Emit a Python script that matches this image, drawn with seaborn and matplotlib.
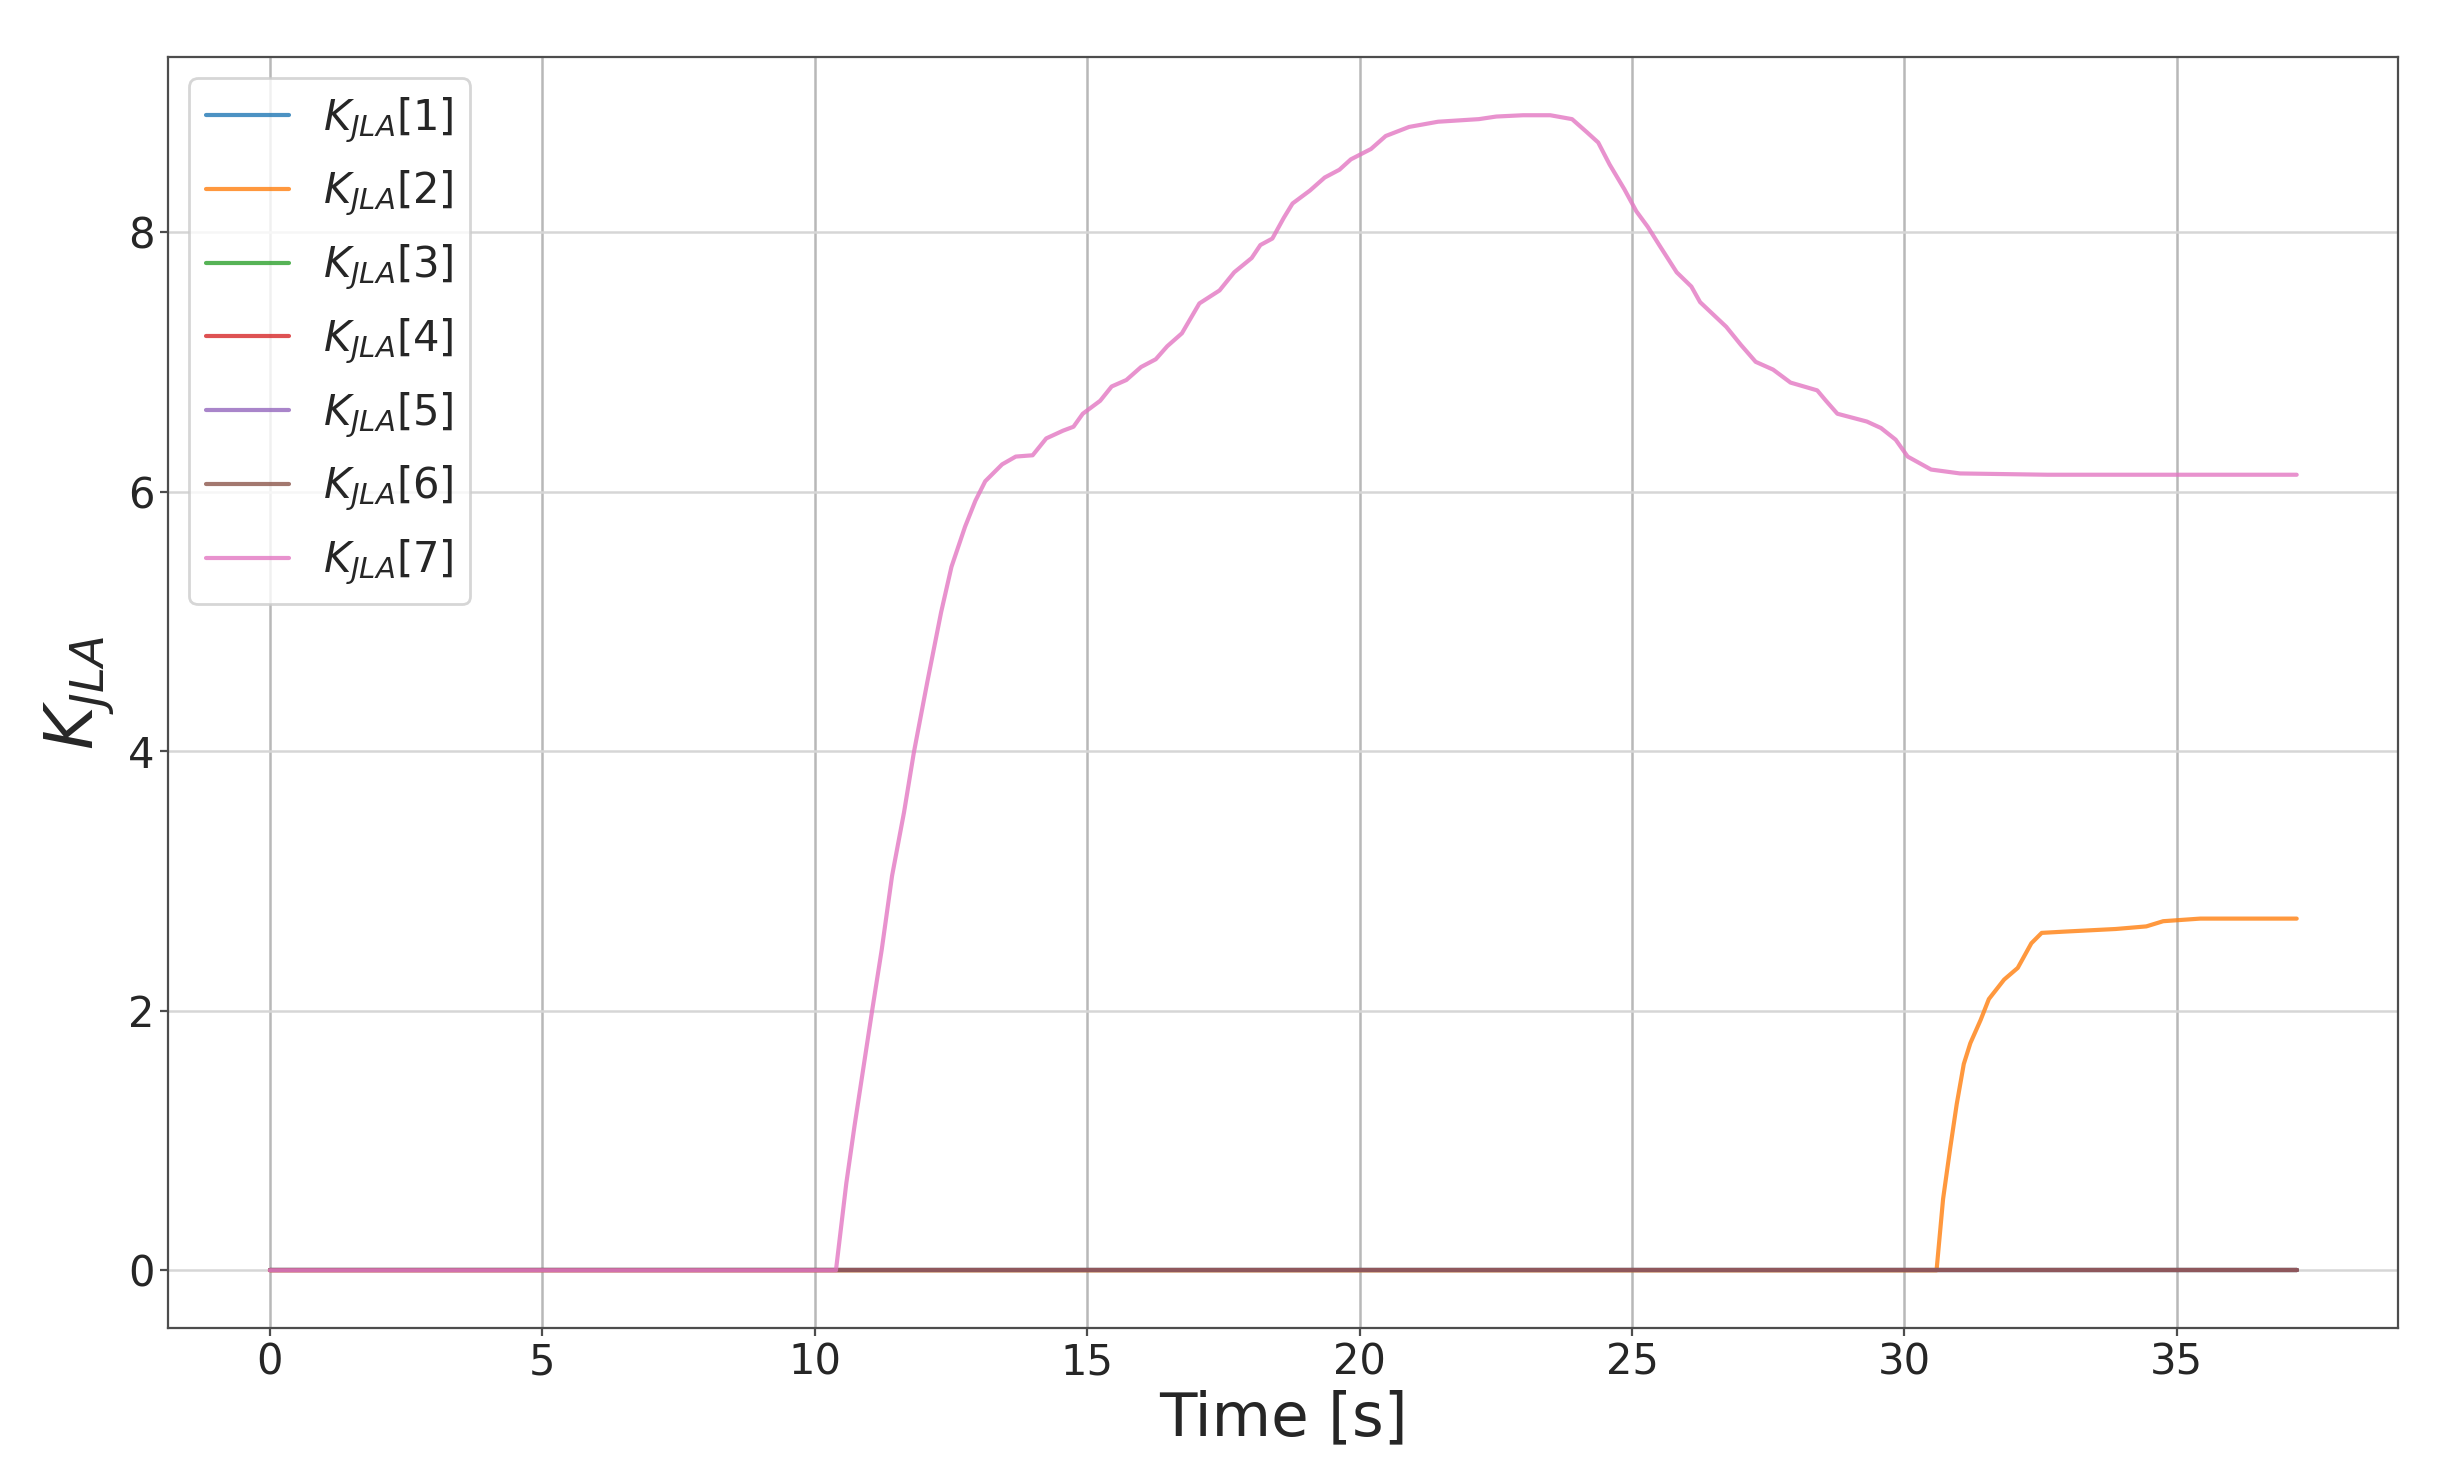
import seaborn as sns
import matplotlib.pyplot as plt
import pandas as pd

t_end = 37.2

k1_t = [0.0, t_end]
k1_v = [0.0, 0.0]

k2_t = [0.0, 30.59, 30.71, 30.84, 30.96, 31.09, 31.21, 31.40, 31.55, 31.83,
        32.08, 32.33, 32.52, 32.95, 33.88, 34.44, 34.75, 35.43, t_end]
k2_v = [0.0, 0.0, 0.55, 0.94, 1.28, 1.59, 1.75, 1.93, 2.09, 2.24,
        2.33, 2.52, 2.60, 2.61, 2.63, 2.65, 2.69, 2.71, 2.71]

k3_t = [0.0, t_end]
k3_v = [0.0, 0.0]
k4_t = [0.0, t_end]
k4_v = [0.0, 0.0]
k5_t = [0.0, t_end]
k5_v = [0.0, 0.0]
k6_t = [0.0, t_end]
k6_v = [0.0, 0.0]

k7_t = [0.0, 10.39, 10.58, 10.73, 10.89, 11.05, 11.23, 11.42, 11.64, 11.82,
        12.07, 12.32, 12.51, 12.76, 12.95, 13.13, 13.44, 13.69, 14.00, 14.25,
        14.56, 14.75, 14.92, 15.24, 15.45, 15.72, 15.99, 16.26, 16.47, 16.74,
        17.06, 17.43, 17.70, 18.02, 18.18, 18.40, 18.61, 18.77, 19.09, 19.36,
        19.63, 19.84, 20.21, 20.48, 20.91, 21.44, 22.19, 22.51, 23.00, 23.50,
        23.90, 24.17, 24.38, 24.59, 24.86, 25.08, 25.29, 25.50, 25.82, 26.09,
        26.25, 26.73, 27.00, 27.27, 27.59, 27.91, 28.40, 28.56, 28.77, 29.31,
        29.57, 29.84, 30.06, 30.49, 31.02, 32.63, t_end]
k7_v = [0.0, 0.0, 0.67, 1.11, 1.55, 1.99, 2.47, 3.04, 3.53, 3.99,
        4.54, 5.07, 5.42, 5.73, 5.93, 6.08, 6.21, 6.27, 6.28, 6.41,
        6.47, 6.50, 6.60, 6.70, 6.81, 6.86, 6.96, 7.02, 7.12, 7.22,
        7.45, 7.55, 7.69, 7.80, 7.90, 7.95, 8.11, 8.22, 8.32, 8.42,
        8.48, 8.56, 8.64, 8.74, 8.81, 8.85, 8.87, 8.89, 8.90, 8.90,
        8.87, 8.77, 8.69, 8.52, 8.33, 8.16, 8.04, 7.90, 7.69, 7.58,
        7.46, 7.27, 7.13, 7.00, 6.94, 6.84, 6.78, 6.70, 6.60, 6.54,
        6.49, 6.40, 6.27, 6.17, 6.14, 6.13, 6.13]

series_names = [r"$K_{JLA}[%d]$" % i for i in range(1, 8)]
series_t = [k1_t, k2_t, k3_t, k4_t, k5_t, k6_t, k7_t]
series_v = [k1_v, k2_v, k3_v, k4_v, k5_v, k6_v, k7_v]

frames = []
for name, t, v in zip(series_names, series_t, series_v):
    frames.append(pd.DataFrame({"time": t, "value": v, "series": name}))
df = pd.concat(frames, ignore_index=True)

sns.set_style("whitegrid", {"axes.edgecolor": "0.3", "grid.color": "0.8",
                            "xtick.bottom": True, "ytick.left": True})
plt.rcParams['font.family'] = ['DejaVu Sans']

fig, ax = plt.subplots(figsize=(12.21, 7.37), dpi=200)
fig.subplots_adjust(left=0.069, right=0.982, top=0.961, bottom=0.099)

sns.lineplot(data=df, x="time", y="value", hue="series", hue_order=series_names,
             palette=sns.color_palette("tab10", 7), estimator=None, sort=False,
             linewidth=1.5, alpha=0.8, ax=ax)

ax.set_yticks([0, 2, 4, 6, 8])
ax.set_xticks([0, 5, 10, 15, 20, 25, 30, 35])
ax.tick_params(labelsize=15, length=3, pad=2, color="0.3")
ax.xaxis.grid(True, color="0.72", linewidth=0.9)
ax.yaxis.grid(True, color="0.84", linewidth=0.9)
ax.set_xlabel("Time [s]", fontsize=22, labelpad=2)
ax.set_ylabel(r"$K_{JLA}$", fontsize=24)
ax.legend(loc="upper left", fontsize=15, handlelength=2.0, labelspacing=0.58)

fig.savefig("out.png", dpi=200)
